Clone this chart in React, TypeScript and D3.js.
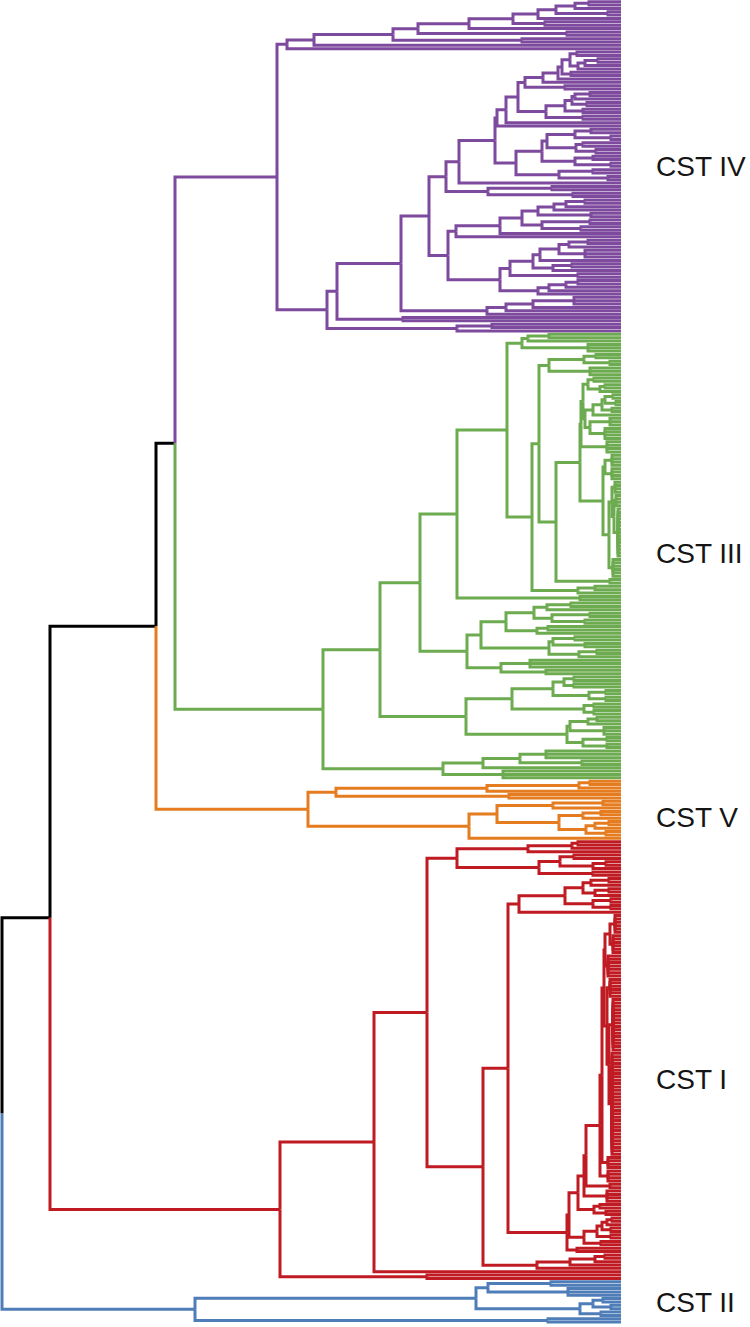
import React, { useMemo } from "react";
import * as d3 from "d3";

// A tree value is: 1 (a leaf), [height, n] (n leaves joined at one height), or [height, upper, lower].
type Raw = any;

// ---- CST IV ----
const iv575: Raw = [46, [32, 2], 1];
const iv556: Raw = [65, iv575, [13, 2]];
const iv538: Raw = [83, iv556, 1];
const iv513: Raw = [108, iv538, [76, 2]];
const iv469: Raw = [152, iv513, 1];
const iv418: Raw = [203, iv469, [54, 2]];
const iv393: Raw = [228, iv418, [99, 2]];
const iv314: Raw = [307, iv393, 1];
const iv287: Raw = [334, iv314, 1];
const iv570: Raw = [51, [44, 2], [43, [36, [23, 2], 1], 1]];
const iv562: Raw = [59, iv570, [50, 2]];
const iv558: Raw = [63, iv562, 1];
const iv543: Raw = [78, iv558, 1];
const iv525: Raw = [96, iv543, [56, 2]];
const iv572: Raw = [49, [46, [31, 2], 1], [34, 2]];
const iv565: Raw = [56, iv572, [38, 2]];
const iv546: Raw = [75, iv565, [38, 2]];
const iv518: Raw = [103, iv525, iv546];
const iv497: Raw = [124, [115, iv518, 1], 1];
const iv547: Raw = [74, [46, [30, 2], [10, 2]], [45, [38, 2], [25, 2]]];
const iv542: Raw = [79, iv547, [46, [28, 2], [10, 2]]];
const iv516: Raw = [105, iv542, [62, [28, 2], [13, 2]]];
const iv459: Raw = [162, [126, iv497, iv516], 1];
const iv446: Raw = [175, iv459, [133, [69, 2], [48, 2]]];
const iv554: Raw = [67, [55, [36, 2], 1], 1];
const iv522: Raw = [99, [83, iv554, [30, 2]], [79, [31, 2], [40, 2]]];
const iv456: Raw = [165, [121, iv522, 1], 1];
const iv559: Raw = [62, [52, [33, 2], 1], [36, 3]];
const iv533: Raw = [88, [81, iv559, 1], [68, [49, 2], 1]];
const iv510: Raw = [111, iv533, [43, 2]];
const iv538b: Raw = [83, [72, [55, [43, 2], 1], 1], 1];
const iv448: Raw = [173, iv456, [121, iv510, iv538b]];
const iv429: Raw = [192, iv446, iv448];
const iv487: Raw = [134, [115, [88, [47, 3], 1], 1], 1];
const iv337: Raw = [284, [220, iv429, iv487], [218, 2]];
const iv327: Raw = [294, iv337, [164, [129, 2], 1]];
const cstIV: Raw = [344, iv287, iv327];

// ---- CST III ----
const iii522: Raw = [99, [93, [72, 2], 1], [33, 3]];
const iii549: Raw = [72, [37, [25, 2], [11, 2]], [31, 3]];
const iii588: Raw = [33, [27, 2], [21, [16, 2], 1]];
const iii593: Raw = [28, [19, [16, [8, 2], [5, 2]], [9, 2]], 1];
const iii585: Raw = [36, iii593, [31, [11, 3], [16, 4]]];
const iii581: Raw = [40, [38, iii588, iii585], [14, 4]];
const iii612: Raw = [9, [6, 4], [7, [5, 4], [3, 15]]];
const iii603: Raw = [18, [16, [9, 4], [9, 4]], [12, iii612, [8, 6]]];
const iii556: Raw = [65, [41, iii581, iii603], [11, 2]];
const iii532: Raw = [89, [82, iii549, iii556], [43, [26, 2], 1]];
const iii457: Raw = [164, [114, iii522, iii532], [41, 2]];
const iii534: Raw = [87, [74, [50, 2], 1], [69, [31, 2], [36, 2]]];
const iii506: Raw = [115, iii534, [84, [73, 2], 1]];
const iii549b: Raw = [72, [68, [46, 2], [36, 2]], [42, [24, 2], 1]];
const iii467: Raw = [154, [140, iii506, iii549b], [120, [91, 3], [75, 2]]];
const iii512: Raw = [109, [68, [57, [47, 2], [47, 2]], [32, [15, 2], [15, 2]]], [37, [27, 2], [27, 2]]];
const iii567: Raw = [54, [51, [33, [24, 2], 1], [17, 3]], [38, [14, 2], [14, 2]]];
const iii380: Raw = [241, [201, iii457, iii467], [155, iii512, iii567]];
const iii443: Raw = [178, [138, [101, [75, 3], [39, 2]], 1], [118, 3]];
const cstIII: Raw = [298, iii380, iii443];

// ---- CST V ----
const v336: Raw = [285, [134, [42, [31, 2], 1], 1], [112, 2]];
const v553: Raw = [68, [18, 2], 1];
const v559: Raw = [62, [38, [20, 2], 1], [35, [26, [12, 2], 1], [15, 2]]];
const cstV: Raw = [313, v336, [152, [124, v553, v559], 1]];

// ---- CST I ----
const i528: Raw = [93, [49, [43, 2], 1], 1];
const i539: Raw = [82, [61, [47, 2], [28, [15, 2], 1]], [28, 2]];
const i457: Raw = [164, i528, i539];
const i565: Raw = [56, [38, [30, [12, 2], 1], [26, [12, 2], 1]], [28, [10, 2], [10, 2]]];
const i519: Raw = [102, i565, 1];
const i605: Raw = [16, [11, [6, 6], [8, 6]], [13, 7]];
const i607: Raw = [14, [11, 6], [12, [8, 16], [9, 31]]];
const i600: Raw = [21, [19, [17, i605, i607], [13, 4]], [13, 4]];
const i584: Raw = [37, [35, i600, [11, 2]], [14, 4]];
const i578: Raw = [43, i584, [27, [21, 2], [15, 2]]];
const i597: Raw = [24, [19, [14, [9, 2], 1], [10, 2]], [10, 2]];
const i569: Raw = [52, i578, [37, i597, [20, 2]]];
const i508: Raw = [113, i519, [54, i569, [44, 2]]];
const i537: Raw = [84, [51, [26, [16, 2], 1], 1], 1];
const i374: Raw = [247, [194, i457, [138, i508, i537]], 1];
const cstI: Raw = [341, i374, [194, 2]];

// ---- CST II ----
const ii488: Raw = [133, [70, 2], [53, 3]];
const ii580: Raw = [41, [28, [18, 2], [10, 2]], [20, 2]];
const cstII: Raw = [426, [145, ii488, ii580], [73, 2]];

// Heights above the clusters.
const joinIVIII = 446;
const joinV = 465;
const joinI = 571;
const joinRoot = 619;
const LEAF_COUNT = 394;

const clusterNames = ["CST IV", "CST III", "CST V", "CST I", "CST II"];
const clusterTrees = [cstIV, cstIII, cstV, cstI, cstII];
const clusterColors = ["#7d4a9e", "#6dab50", "#e57c1f", "#c01a22", "#4f7db8"];
const labelLeaf = [49.7, 164.6, 243.2, 321.4, 387.8];

type T = { h: number; color: string; children?: T[] };
function build(raw: Raw, color: string): T {
  if (typeof raw === "number") return { h: 0, color };
  if (raw.length === 2) {
    const kids: T[] = [];
    for (let i = 0; i < raw[1]; i++) kids.push({ h: 0, color });
    return { h: raw[0], color, children: kids };
  }
  return { h: raw[0], color, children: [build(raw[1], color), build(raw[2], color)] };
}

export default function App() {
  const W = 750;
  const H = 1327;
  const x = d3.scaleLinear().domain([0, 619]).range([621, 2]);
  const y = d3.scaleLinear().domain([0, LEAF_COUNT]).range([0, 1323.8]);

  const links = useMemo(() => {
    const c = clusterTrees.map((t, i) => build(t, clusterColors[i]));
    const rootData: T = {
      h: joinRoot,
      color: "#000",
      children: [
        {
          h: joinI,
          color: "#000",
          children: [
            {
              h: joinV,
              color: "#000",
              children: [{ h: joinIVIII, color: "#000", children: [c[0], c[1]] }, c[2]],
            },
            c[3],
          ],
        },
        c[4],
      ],
    };
    const root = d3.hierarchy<T>(rootData, (d) => d.children);
    const pos = new Map<any, number>();
    let leaf = 0;
    root.eachAfter((n) => {
      if (!n.children) {
        pos.set(n, y(leaf + 0.5));
        leaf += 1;
      } else {
        pos.set(n, (pos.get(n.children[0])! + pos.get(n.children[n.children.length - 1])!) / 2);
      }
    });
    return root
      .descendants()
      .filter((n) => n.parent)
      .map((n) => {
        const p = d3.path();
        p.moveTo(x(n.parent!.data.h), pos.get(n.parent)!);
        p.lineTo(x(n.parent!.data.h), pos.get(n)!);
        p.lineTo(x(n.data.h), pos.get(n)!);
        return { d: p.toString(), color: n.data.color };
      });
  }, []);

  return (
    <svg width={W} height={H} style={{ position: "absolute", left: 0, top: 0, background: "#fff" }}>
      <g fill="none" strokeWidth={3} strokeLinecap="butt" strokeLinejoin="miter">
        {links.map((l, i) => (
          <path key={i} d={l.d} stroke={l.color} />
        ))}
      </g>
      <g fontFamily="'Liberation Sans', Arial, sans-serif" fontSize={28} fill="#151515">
        {clusterNames.map((name, i) => (
          <text key={name} x={656} y={y(labelLeaf[i])} dominantBaseline="central">
            {name}
          </text>
        ))}
      </g>
    </svg>
  );
}
